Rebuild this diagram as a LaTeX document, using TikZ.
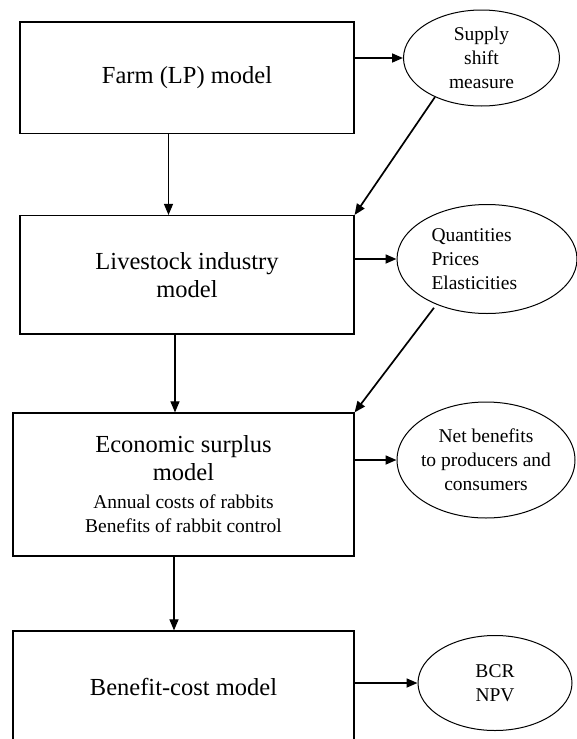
\documentclass[tikz,border=0pt]{standalone}
\usepackage{fontspec}
\setmainfont{Liberation Serif}
\usetikzlibrary{arrows.meta, shapes.geometric}
\tikzset{
    %Define standard arrow tip
    >={Triangle[length=11pt, width=9pt]},
    %Define style for boxes
    modele/.style={
           rectangle,
           draw=black, line width=1.2pt,
           minimum width=334pt,
           align=center,
           font=\fontsize{24.5}{28}\selectfont},
    % Define style for results
    sortie/.style={
           ellipse,
           draw=black, line width=1pt,
           inner sep=0pt,
           align=center,
           font=\fontsize{19.5}{24}\selectfont},
    % Define arrow styles
    fleche/.style={
           ->,
           line width=1.7pt},
    descente/.style={
           ->,
           line width=1.1pt}
}

\begin{document}
\begin{tikzpicture}[x=1pt, y=-1pt]
	\clip (0,0) rectangle (577,739);
	%
	% modeles
	%
	\node[modele, minimum height=111.5pt] (farm) at (187,77.75) {Farm (LP) model};
	\node[modele, minimum height=118.5pt] (lives) at (187,274.8) {Livestock industry\\model};
	\node[modele, minimum width=341pt, minimum height=143pt] (surpl) at (183.5,484.5)
		{Economic surplus\\model\\\fontsize{19.5}{23}\selectfont Annual costs of rabbits\\[-4pt]\fontsize{19.5}{23}\selectfont Benefits of rabbit control};
	\node[modele, minimum width=341pt, minimum height=112pt] (bencost) at (183.5,687) {Benefit-cost model};
	%
	% sorties
	%
	\node[sortie, minimum width=156pt, minimum height=96pt] (shift) at (481.5,58) {Supply\\shift\\measure};
	\node[sortie, minimum width=180pt, minimum height=109pt, text width=111pt, align=left] (quant) at (487,259) {Quantities\\Prices\\Elasticities};
	\node[sortie, minimum width=178pt, minimum height=116pt, inner xsep=-4pt] (netben) at (486,460) {Net benefits\\to producers and\\consumers};
	\node[sortie, minimum width=154pt, minimum height=95pt] (bcr) at (495,683) {BCR\\NPV};
	%
	% fleches
	%
	\draw[fleche] (farm.east |- shift.west) -- (shift.west);
	\draw[fleche] (lives.east |- quant.west) -- (quant.west);
	\draw[fleche] (surpl.east |- netben.west) -- (netben.west);
	\draw[fleche] (bencost.east |- bcr.west) -- (bcr.west);
	\draw[fleche] (shift.220) -- (lives.north east);
	\draw[fleche, shorten <=4pt] (quant.222) -- (surpl.north east);
	\draw[descente] ([xshift=-18.5pt]farm.south) -- ([xshift=-18.5pt]lives.north);
	\draw[descente] ([xshift=-12pt]lives.south) -- ([xshift=-12pt]lives.south |- surpl.north);
	\draw[descente] ([xshift=-9.5pt]surpl.south) -- ([xshift=-9.5pt]bencost.north);
\end{tikzpicture}
\end{document}
